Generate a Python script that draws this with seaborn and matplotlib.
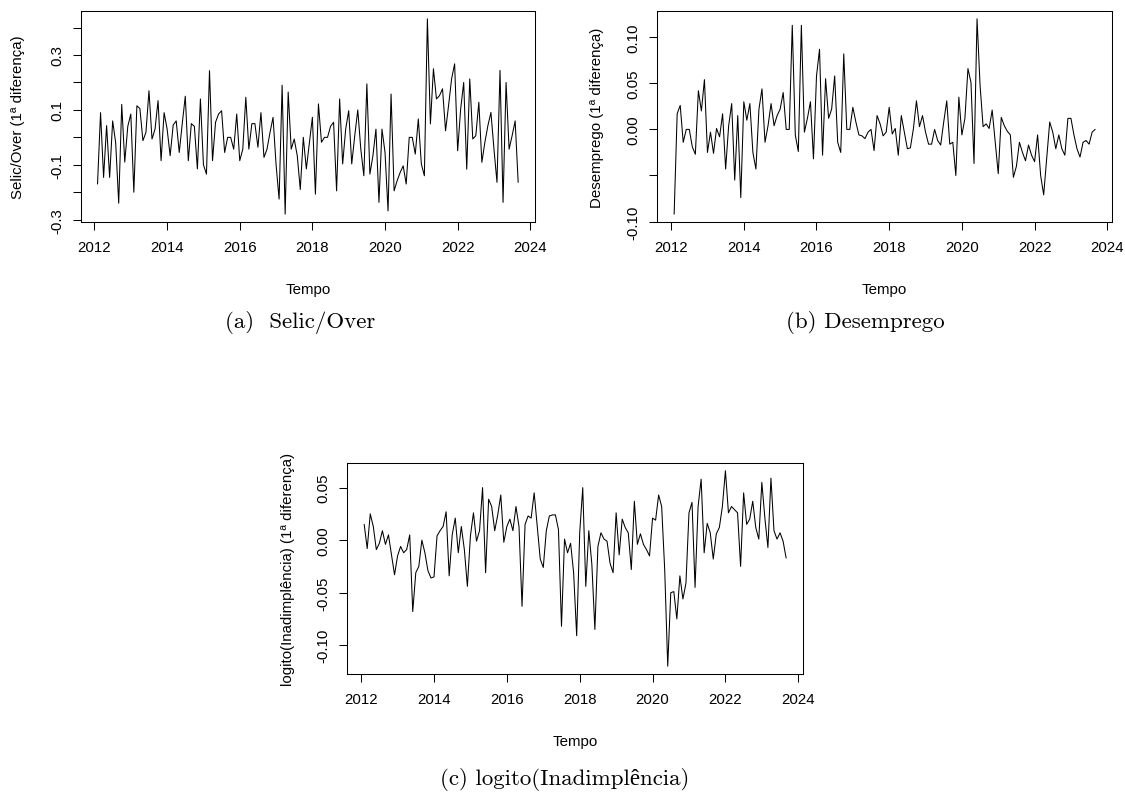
import numpy as np
import pandas as pd
import matplotlib
matplotlib.use('Agg')
import matplotlib.pyplot as plt
import seaborn as sns

# ── Data (monthly first differences, Feb/2012 .. Sep/2023) ─────────────────────
months = np.arange(1, 141)
tempo = 2012 + months / 12

selic = [
    -0.17, 0.09, -0.146, 0.043, -0.146, 0.06, -0.02, -0.24, 0.12, -0.09,
    0.04, 0.085, -0.2, 0.115, 0.105, -0.012, 0.018, 0.17, -0.006, 0.03,
    0.134, -0.085, 0.09, 0.03, -0.067, 0.045, 0.06, -0.055, 0.05, 0.15,
    -0.085, 0.05, 0.04, -0.115, 0.14, -0.1, -0.134, 0.243, -0.085, 0.055,
    0.085, 0.097, -0.055, 0.0, 0.0, -0.043, 0.085, -0.085, -0.043, 0.146,
    -0.043, 0.05, 0.05, -0.036, 0.09, -0.073, -0.043, 0.018, 0.073, -0.1,
    -0.225, 0.19, -0.28, 0.165, -0.043, -0.006, -0.067, -0.19, 0.0, -0.115,
    -0.02, 0.073, -0.207, 0.122, -0.018, 0.0, 0.0, 0.04, 0.055, -0.195,
    0.14, -0.097, 0.03, 0.097, -0.097, 0.006, 0.1, -0.043, -0.14, 0.195,
    -0.134, -0.067, 0.03, -0.237, 0.03, -0.055, -0.268, 0.158, -0.195, -0.158,
    -0.128, -0.104, -0.17, 0.0, 0.0, -0.061, 0.067, -0.097, -0.14, 0.432,
    0.049, 0.25, 0.14, 0.152, 0.177, 0.024, 0.116, 0.213, 0.268, -0.049,
    0.104, 0.2, -0.116, 0.213, -0.006, 0.006, 0.128, -0.091, -0.018, 0.043,
    0.091, -0.043, -0.164, 0.244, -0.237, 0.2, -0.043, 0.006, 0.06, -0.164,
]

desemprego = [
    -0.092, 0.017, 0.026, -0.014, 0.0, 0.0, -0.019, -0.027, 0.042, 0.02,
    0.054, -0.025, -0.003, -0.026, 0.001, -0.008, 0.017, -0.043, 0.004, 0.028,
    -0.055, 0.015, -0.074, 0.03, 0.01, 0.028, -0.025, -0.043, 0.022, 0.044,
    -0.014, 0.004, 0.028, 0.004, 0.015, 0.022, 0.04, 0.0, 0.0, 0.113,
    -0.006, -0.024, 0.113, -0.003, 0.012, 0.03, -0.032, 0.058, 0.087, -0.028,
    0.055, 0.012, 0.022, 0.058, -0.014, -0.025, 0.082, 0.0, 0.0, 0.024,
    0.008, -0.006, -0.007, -0.01, -0.003, 0.0, -0.023, 0.015, 0.006, -0.007,
    -0.003, 0.024, -0.005, 0.001, -0.028, 0.015, -0.003, -0.021, -0.02, 0.001,
    0.031, 0.003, 0.015, -0.003, -0.016, -0.016, 0.0, -0.012, -0.017, 0.008,
    0.031, -0.016, -0.014, -0.05, 0.035, -0.006, 0.012, 0.066, 0.051, -0.037,
    0.12, 0.048, 0.003, 0.006, 0.001, 0.021, -0.014, -0.048, 0.013, 0.004,
    -0.002, -0.006, -0.052, -0.04, -0.014, -0.025, -0.034, -0.017, -0.028, -0.035,
    -0.006, -0.05, -0.071, -0.032, 0.008, -0.003, -0.021, -0.006, -0.021, -0.028,
    0.012, 0.012, -0.006, -0.021, -0.03, -0.014, -0.012, -0.016, -0.003, 0.0,
]

inadimplencia = [
    0.015, -0.008, 0.025, 0.013, -0.009, -0.003, 0.009, -0.004, 0.005, -0.014,
    -0.033, -0.015, -0.006, -0.012, -0.009, 0.005, -0.068, -0.031, -0.025, 0.0,
    -0.012, -0.029, -0.036, -0.035, 0.004, 0.009, 0.013, 0.027, -0.034, 0.005,
    0.021, -0.012, 0.013, -0.009, -0.044, 0.004, 0.026, -0.001, 0.009, 0.05,
    -0.031, 0.039, 0.032, 0.009, 0.024, 0.043, -0.002, 0.013, 0.02, 0.009,
    0.032, 0.013, -0.063, 0.015, 0.023, 0.021, 0.045, 0.013, -0.018, -0.026,
    0.009, 0.023, 0.024, 0.024, 0.01, -0.082, 0.001, -0.012, -0.003, -0.031,
    -0.091, 0.007, 0.05, -0.044, 0.009, -0.023, -0.085, -0.006, 0.007, 0.001,
    -0.001, -0.022, -0.031, 0.026, -0.014, 0.02, 0.012, 0.007, -0.028, 0.037,
    -0.004, 0.006, -0.004, -0.009, -0.015, 0.021, 0.019, 0.043, 0.032, -0.028,
    -0.12, -0.05, -0.049, -0.075, -0.034, -0.056, -0.041, 0.026, 0.036, -0.045,
    0.032, 0.058, -0.012, 0.016, 0.007, -0.018, 0.006, 0.012, 0.032, 0.066,
    0.026, 0.032, 0.029, 0.026, -0.025, 0.045, 0.015, 0.02, 0.037, 0.012,
    0.001, 0.055, 0.021, -0.007, 0.059, 0.009, 0.001, 0.007, -0.001, -0.017,
]

x_ticks = [2012, 2014, 2016, 2018, 2020, 2022, 2024]

yticks_a = [-0.3, -0.2, -0.1, 0.0, 0.1, 0.2, 0.3, 0.4]
ylabels_a = ['-0.3', '', '-0.1', '', '0.1', '', '0.3', '']
yticks_b = [-0.10, -0.05, 0.00, 0.05, 0.10]
ylabels_b = ['-0.10', '', '0.00', '0.05', '0.10']
yticks_c = [-0.10, -0.05, 0.00, 0.05]
ylabels_c = ['-0.10', '-0.05', '0.00', '0.05']

# ── Style ─────────────────────────────────────────────────────────────────────
sns.set_theme(style='white')
plt.rcParams['font.family'] = ['Liberation Sans', 'DejaVu Sans']
plt.rcParams['axes.linewidth'] = 0.75
plt.rcParams['axes.edgecolor'] = 'black'

SANS = 10.8
W, H = 1125, 812

fig = plt.figure(figsize=(W / 100, H / 100), dpi=100)


def box(left, top, right, bottom):
    return [left / W, 1 - bottom / H, (right - left) / W, (bottom - top) / H]


def draw_panel(rect, values, ylab, yticks, ylabels, ylab_x):
    ax = fig.add_axes(rect)
    df = pd.DataFrame({'tempo': tempo, 'valor': values})
    sns.lineplot(data=df, x='tempo', y='valor', ax=ax,
                 color='black', linewidth=0.75, estimator=None)

    # R-style 4% padding around the data range
    xlo, xhi = df['tempo'].min(), df['tempo'].max()
    ylo, yhi = df['valor'].min(), df['valor'].max()
    ax.set_xlim(xlo - 0.04 * (xhi - xlo), xhi + 0.04 * (xhi - xlo))
    ax.set_ylim(ylo - 0.04 * (yhi - ylo), yhi + 0.04 * (yhi - ylo))

    ax.set_xticks(x_ticks)
    ax.set_xticklabels([str(t) for t in x_ticks])
    ax.set_yticks(yticks)
    ax.set_yticklabels(ylabels)
    ax.tick_params(axis='both', which='both', direction='out', length=6,
                   width=0.75, color='black', labelsize=SANS,
                   labelcolor='black', bottom=True, left=True)
    ax.tick_params(axis='x', pad=7)
    ax.tick_params(axis='y', pad=6)
    for lab in ax.get_yticklabels():
        lab.set_rotation(90)
        lab.set_va('center')

    for sp in ax.spines.values():
        sp.set_visible(True)
        sp.set_color('black')
        sp.set_linewidth(0.75)

    ax.set_xlabel('Tempo', fontsize=SANS, color='black', va='center')
    ax.xaxis.set_label_coords(0.5, -0.318)
    ax.set_ylabel(ylab, fontsize=SANS, color='black', va='center')
    ax.yaxis.set_label_coords(ylab_x, 0.5)
    ax.grid(False)
    return ax


draw_panel(box(80.7, 12, 535, 223), selic,
           'Selic/Over (1ª diferença)', yticks_a, ylabels_a, -0.138)
draw_panel(box(657.3, 12, 1112, 223), desemprego,
           'Desemprego (1ª diferença)', yticks_b, ylabels_b, -0.133)
draw_panel(box(347.3, 464, 803, 675), inadimplencia,
           'logito(Inadimplência) (1ª diferença)', yticks_c, ylabels_c, -0.131)

# ── Captions ──────────────────────────────────────────────────────────────────
cap_font = dict(family=['cmr10', 'Liberation Serif'], fontsize=16.5,
                ha='center', va='center', color='black')
fig.text(300 / W, 1 - 323 / H, '(a)  Selic/Over', **cap_font)
fig.text(865 / W, 1 - 323 / H, '(b) Desemprego', **cap_font)
fig.text(565 / W, 1 - 780 / H, '(c) logito(Inadimplência)', **cap_font)

fig.savefig('out.png', dpi=100)
plt.close(fig)
